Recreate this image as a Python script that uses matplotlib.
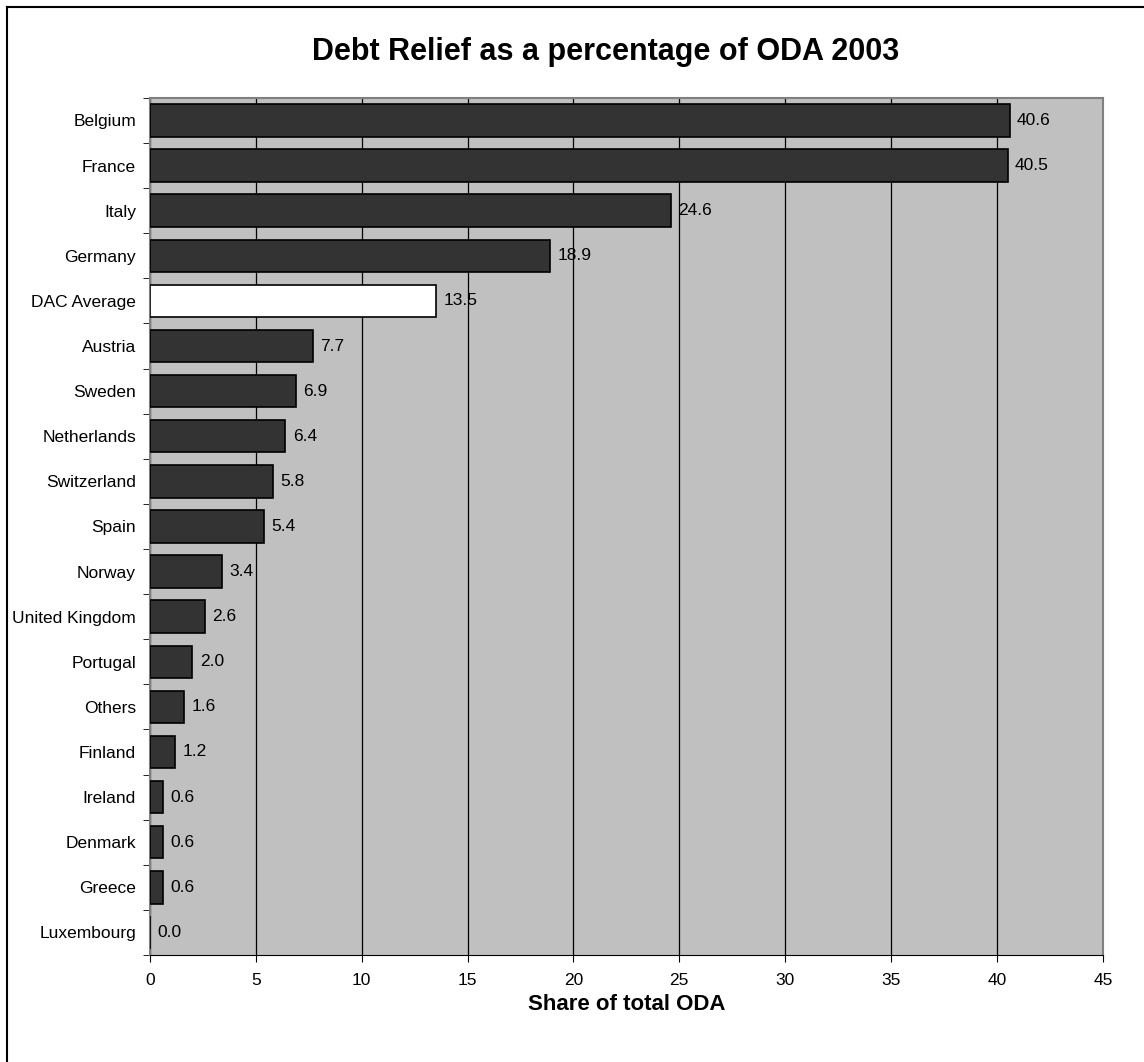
import matplotlib.pyplot as plt
from matplotlib.lines import Line2D

plt.rcParams['font.family'] = ['Liberation Sans', 'DejaVu Sans']

# Data (top to bottom)
countries = ["Belgium", "France", "Italy", "Germany", "DAC Average", "Austria",
             "Sweden", "Netherlands", "Switzerland", "Spain", "Norway",
             "United Kingdom", "Portugal", "Others", "Finland", "Ireland",
             "Denmark", "Greece", "Luxembourg"]
shares = [40.6, 40.5, 24.6, 18.9, 13.5, 7.7, 6.9, 6.4, 5.8, 5.4, 3.4,
          2.6, 2.0, 1.6, 1.2, 0.6, 0.6, 0.6, 0.0]
highlight = "DAC Average"

fig = plt.figure(figsize=(11.44, 10.62), dpi=100)
ax = fig.add_axes([0.131, 0.1008, 0.833, 0.807])

n = len(countries)
ypos = list(range(n))
colors = ["white" if c == highlight else "#333333" for c in countries]
ax.barh(ypos, shares, height=0.72, color=colors, edgecolor="black",
        linewidth=1.2, zorder=3)

for y, v in zip(ypos, shares):
    ax.text(v + 0.35, y, f"{v:.1f}", va="center", ha="left", fontsize=12.5,
            zorder=4)

ax.set_facecolor("#C0C0C0")
ax.set_xlim(0, 45)
ax.set_ylim(n - 0.5, -0.5)
ax.set_xticks(range(0, 46, 5))
ax.set_yticks(ypos)
ax.set_yticklabels(countries)
ax.tick_params(axis="y", length=0, labelsize=12.5, pad=10)
ax.tick_params(axis="x", length=5, labelsize=12.5, pad=8)
# small tick marks at category boundaries
ax.set_yticks([i - 0.5 for i in range(n + 1)], minor=True)
ax.tick_params(axis="y", which="minor", length=5, direction="out")

ax.grid(axis="x", color="black", linewidth=0.9, zorder=1)
ax.set_axisbelow(True)

for side in ["top", "right", "left"]:
    ax.spines[side].set_color("#808080")
    ax.spines[side].set_linewidth(1.5)
ax.spines["bottom"].set_color("black")

ax.set_xlabel("Share of total ODA", fontsize=16, fontweight="bold", labelpad=4)
fig.text(0.529, 0.951, "Debt Relief as a percentage of ODA 2003",
         ha="center", va="center", fontsize=22, fontweight="bold")

# outer frame (left and top edges visible)
fig.add_artist(Line2D([7 / 1144, 7 / 1144], [0, 1 - 7 / 1062],
                      transform=fig.transFigure, color="black", linewidth=1.5))
fig.add_artist(Line2D([7 / 1144, 1], [1 - 7 / 1062, 1 - 7 / 1062],
                      transform=fig.transFigure, color="black", linewidth=1.5))

plt.savefig("out.png", dpi=100)
